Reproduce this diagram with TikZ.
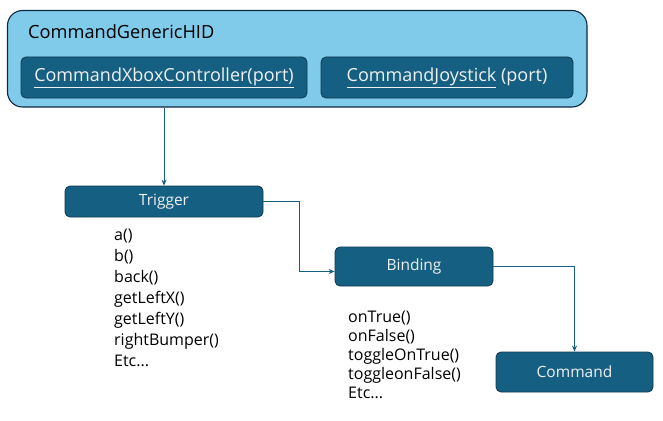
\documentclass[tikz,border=0pt]{standalone}
\usepackage{fontspec}
\setmainfont{Open Sans}
\usetikzlibrary{arrows.meta}

\begin{document}
\begin{tikzpicture}[x=1pt,y=-1pt,
  darkbox/.style={draw=myborder, fill=mydark, text=mytext, rounded corners=5pt,
    line width=0.8pt, inner sep=0pt},
  flow/.style={draw=mydark, line width=0.9pt, -{Stealth[length=6pt,width=5pt]}},
  listtext/.style={align=left, anchor=base west, inner sep=0pt}]

\definecolor{mylight}{RGB}{128,202,234}
\definecolor{mynavy}{RGB}{14,40,65}
\definecolor{mydark}{RGB}{21,96,130}
\definecolor{myborder}{RGB}{14,58,80}
\definecolor{mytext}{RGB}{240,240,240}

\useasboundingbox (0,0) rectangle (663,420);

% outer HID box
\node[draw=mynavy, fill=mylight, line width=1.1pt, rounded corners=15pt,
  minimum width=579.5pt, minimum height=96.5pt] (hid) at (297.25,58.75) {};
\node[anchor=base west, inner sep=0pt, font=\fontsize{18.2}{20}\selectfont]
  (hidname) at (28,38) {CommandGenericHID};

\node[darkbox, minimum width=286pt, minimum height=41pt,
  font=\fontsize{18}{20}\selectfont] (xbox) at (164,77.5)
  {\underline{CommandXboxController(port)}};
\node[darkbox, minimum width=252pt, minimum height=41pt,
  font=\fontsize{18}{20}\selectfont] (joy) at (447,77.5)
  {\underline{CommandJoystick} (port)};

% flow boxes
\node[darkbox, minimum width=198pt, minimum height=31pt,
  font=\fontsize{15.5}{18}\selectfont] (trigger) at (164,201.5) {Trigger};
\node[darkbox, minimum width=158pt, minimum height=39pt,
  font=\fontsize{15.5}{18}\selectfont] (binding) at (414,266.5) {Binding};
\node[darkbox, minimum width=157pt, minimum height=40pt,
  font=\fontsize{15.5}{18}\selectfont] (command) at (574.5,372) {Command};

% method lists (base = last line)
\node[listtext, font=\fontsize{16}{21}\selectfont] (triggerlist) at (114,366.5)
  {a()\\ b()\\ back()\\ getLeftX()\\ getLeftY()\\ rightBumper()\\ Etc...};
\node[listtext, font=\fontsize{16}{18.8}\selectfont] (bindinglist) at (348,398)
  {onTrue()\\ onFalse()\\ toggleOnTrue()\\ toggleonFalse()\\ Etc...};

% connectors
\draw[flow] (hid.south -| trigger.north) -- (trigger.north);
\draw[flow] (trigger.east) -- ++(36,0) |- ([yshift=-5pt]binding.west);
\draw[flow] (binding.east) -| (command.north);

\end{tikzpicture}
\end{document}
